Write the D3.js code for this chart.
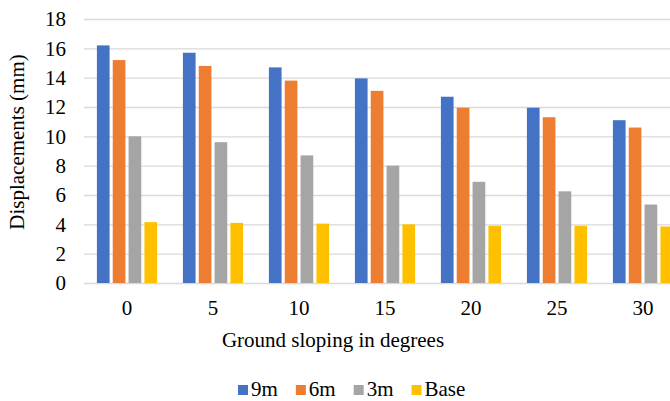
<!DOCTYPE html>
<html>
<head>
<meta charset="utf-8">
<script src="https://cdn.jsdelivr.net/npm/d3@7"></script>
<style>
  body { margin: 0; background: #fff; }
  svg { display: block; }
  text { font-family: "Liberation Serif", "Times New Roman", serif; fill: #000; }
</style>
</head>
<body>
<svg width="670" height="401"></svg>
<script>
var slopes = ["0", "5", "10", "15", "20", "25", "30"];
var seriesNames = ["9m", "6m", "3m", "Base"];
var colors = ["#4472C4", "#ED7D31", "#A5A5A5", "#FFC000"];
var vals9m   = [16.2, 15.7, 14.7, 13.95, 12.7, 11.95, 11.1];
var vals6m   = [15.2, 14.8, 13.8, 13.1, 11.95, 11.3, 10.6];
var vals3m   = [10.0, 9.6, 8.7, 8.0, 6.9, 6.25, 5.35];
var valsBase = [4.15, 4.1, 4.05, 4.0, 3.9, 3.9, 3.85];
var yTicks = [0, 2, 4, 6, 8, 10, 12, 14, 16, 18];

var allVals = [vals9m, vals6m, vals3m, valsBase];

var svg = d3.select("svg"),
    plotLeft = 84, plotTop = 19, plotBottom = 283,
    fs = 21;

// plot area runs past the right edge (the reference is cropped there)
var x0 = d3.scaleBand()
    .domain(slopes)
    .range([plotLeft, plotLeft + 86 * 7])
    .paddingInner(0.3)
    .paddingOuter(0.15);

var x1 = d3.scaleBand()
    .domain(seriesNames)
    .range([0, x0.bandwidth()])
    .paddingInner(0.2);

var y = d3.scaleLinear()
    .domain([0, 18])
    .range([plotBottom, plotTop]);

// gridlines
svg.append("g")
    .attr("transform", "translate(" + plotLeft + ",0)")
    .call(d3.axisRight(y).tickValues(yTicks).tickSize(670 - plotLeft).tickFormat(""))
    .call(function(g) {
      g.select(".domain").remove();
      g.selectAll("line").attr("stroke", "#d9d9d9").attr("stroke-width", 1.3);
    });

// y tick labels
svg.append("g")
    .attr("transform", "translate(66,0)")
    .call(d3.axisLeft(y).tickValues(yTicks).tickSize(0).tickPadding(0))
    .call(function(g) {
      g.select(".domain").remove();
      g.selectAll("text")
        .attr("font-size", fs)
        .attr("font-family", "Liberation Serif")
        .attr("fill", "#000");
    });

// bars
var groups = svg.append("g").selectAll("g")
    .data(slopes)
  .enter().append("g")
    .attr("transform", function(d) { return "translate(" + x0(d) + ",0)"; });

groups.selectAll("rect")
    .data(function(d, i) {
      return seriesNames.map(function(s, j) { return {key: s, value: allVals[j][i], c: colors[j]}; });
    })
  .enter().append("rect")
    .attr("x", function(d) { return x1(d.key); })
    .attr("y", function(d) { return y(d.value); })
    .attr("width", x1.bandwidth())
    .attr("height", function(d) { return y(0) - y(d.value); })
    .attr("fill", function(d) { return d.c; });

// x axis labels
svg.append("g")
    .attr("transform", "translate(0," + plotBottom + ")")
    .call(d3.axisBottom(x0).tickSize(0).tickPadding(17))
    .call(function(g) {
      g.select(".domain").remove();
      g.selectAll("text")
        .attr("font-size", fs)
        .attr("font-family", "Liberation Serif")
        .attr("fill", "#000");
    });

// axis titles
svg.append("text")
    .attr("x", 333)
    .attr("y", 347)
    .attr("text-anchor", "middle")
    .attr("font-size", fs)
    .text("Ground sloping in degrees");

svg.append("text")
    .attr("transform", "translate(24,142) rotate(-90)")
    .attr("text-anchor", "middle")
    .attr("font-size", fs)
    .text("Displacements (mm)");

// legend
var legend = svg.append("g");
var lx = 238;
seriesNames.forEach(function(s, i) {
  legend.append("rect")
      .attr("x", lx).attr("y", 385)
      .attr("width", 10).attr("height", 10)
      .attr("fill", colors[i]);
  var t = legend.append("text")
      .attr("x", lx + 13).attr("y", 396)
      .attr("font-size", fs)
      .text(s);
  lx += 13 + t.node().getComputedTextLength() + 18;
});
</script>
</body>
</html>
